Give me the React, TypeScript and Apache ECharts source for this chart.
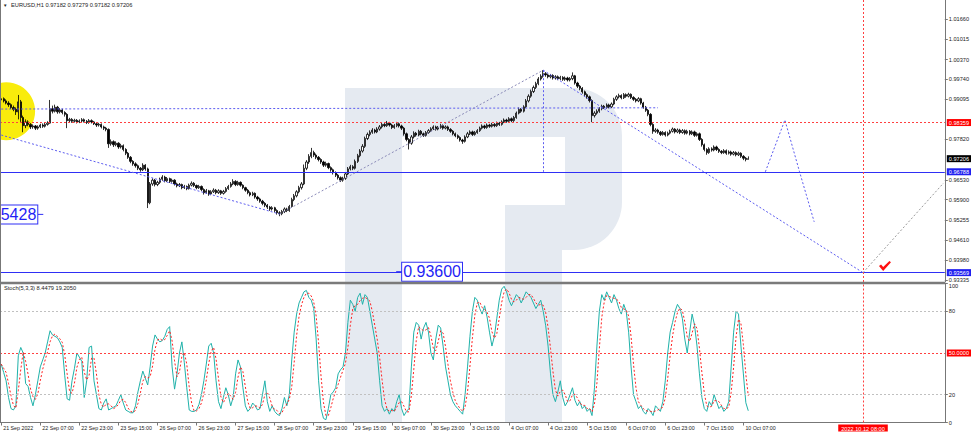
import React, { useEffect, useRef } from 'react';
import * as echarts from 'echarts';

// ---------------- data ----------------
const SYMBOL = 'EURUSD,H1';
const SLOT_COUNT = 387; // hourly slots on the time axis (history + empty future)
const LABEL_STEP = 16; // one time label every 16 bars
const TIME_LABELS = ['21 Sep 2022', '22 Sep 07:00', '22 Sep 23:00', '23 Sep 15:00', '26 Sep 07:00', '26 Sep 23:00', '27 Sep 15:00', '28 Sep 07:00', '28 Sep 23:00', '29 Sep 15:00', '30 Sep 07:00', '30 Sep 23:00', '3 Oct 15:00', '4 Oct 07:00', '4 Oct 23:00', '5 Oct 15:00', '6 Oct 07:00', '6 Oct 23:00', '7 Oct 15:00', '10 Oct 07:00'];

const FIRST_OPEN = 0.9908;
const CLOSE = [
  0.9912, 0.9905, 0.9898, 0.9893, 0.9884, 0.9878, 0.9870, 0.9902, 0.9852, 0.9826,
  0.9838, 0.9830, 0.9822, 0.9825, 0.9818, 0.9822, 0.9828, 0.9824, 0.9830, 0.9834,
  0.9880, 0.9872, 0.9885, 0.9870, 0.9876, 0.9868, 0.9862, 0.9842, 0.9846, 0.9840,
  0.9843, 0.9838, 0.9841, 0.9845, 0.9840, 0.9836, 0.9842, 0.9838, 0.9832, 0.9828,
  0.9830, 0.9822, 0.9818, 0.9814, 0.9768, 0.9775, 0.9765, 0.9770, 0.9758, 0.9762,
  0.9750, 0.9738, 0.9725, 0.9712, 0.9704, 0.9698, 0.9690, 0.9685, 0.9700, 0.9688,
  0.9580, 0.9640, 0.9652, 0.9638, 0.9645, 0.9655, 0.9662, 0.9650, 0.9657, 0.9648,
  0.9652, 0.9640, 0.9634, 0.9638, 0.9628, 0.9632, 0.9625, 0.9636, 0.9642, 0.9635,
  0.9628, 0.9632, 0.9622, 0.9612, 0.9618, 0.9608, 0.9615, 0.9620, 0.9612, 0.9618,
  0.9610, 0.9616, 0.9625, 0.9632, 0.9640, 0.9648, 0.9638, 0.9645, 0.9636, 0.9628,
  0.9620, 0.9612, 0.9605, 0.9610, 0.9598, 0.9592, 0.9585, 0.9578, 0.9572, 0.9566,
  0.9560, 0.9564, 0.9555, 0.9548, 0.9545, 0.9552, 0.9560, 0.9555, 0.9568, 0.9590,
  0.9602, 0.9615, 0.9628, 0.9640, 0.9690, 0.9710, 0.9728, 0.9740, 0.9732, 0.9725,
  0.9718, 0.9710, 0.9700, 0.9705, 0.9692, 0.9685, 0.9676, 0.9668, 0.9660, 0.9652,
  0.9658, 0.9672, 0.9688, 0.9695, 0.9690, 0.9712, 0.9730, 0.9745, 0.9760, 0.9785,
  0.9798, 0.9805, 0.9812, 0.9806, 0.9815, 0.9822, 0.9830, 0.9826, 0.9834, 0.9828,
  0.9820, 0.9826, 0.9832, 0.9825, 0.9818, 0.9800, 0.9782, 0.9770, 0.9790, 0.9802,
  0.9796, 0.9808, 0.9800, 0.9795, 0.9804, 0.9810, 0.9816, 0.9822, 0.9815, 0.9820,
  0.9826, 0.9818, 0.9822, 0.9814, 0.9808, 0.9800, 0.9794, 0.9788, 0.9780, 0.9776,
  0.9790, 0.9800, 0.9806, 0.9798, 0.9804, 0.9810, 0.9818, 0.9825, 0.9820, 0.9828,
  0.9824, 0.9830, 0.9826, 0.9834, 0.9830, 0.9838, 0.9844, 0.9840, 0.9848, 0.9842,
  0.9852, 0.9866, 0.9878, 0.9872, 0.9886, 0.9905, 0.9920, 0.9935, 0.9948, 0.9960,
  0.9975, 0.9984, 0.9992, 0.9988, 0.9982, 0.9986, 0.9978, 0.9982, 0.9976, 0.9980,
  0.9974, 0.9978, 0.9972, 0.9976, 0.9985, 0.9962, 0.9952, 0.9945, 0.9934, 0.9925,
  0.9918, 0.9906, 0.9858, 0.9866, 0.9872, 0.9880, 0.9888, 0.9884, 0.9892, 0.9886,
  0.9895, 0.9910, 0.9918, 0.9922, 0.9915, 0.9925, 0.9920, 0.9926, 0.9916, 0.9910,
  0.9905, 0.9912, 0.9898, 0.9885, 0.9875, 0.9862, 0.9830, 0.9808, 0.9812, 0.9805,
  0.9798, 0.9804, 0.9796, 0.9802, 0.9808, 0.9815, 0.9806, 0.9812, 0.9804, 0.9810,
  0.9802, 0.9808, 0.9800, 0.9806, 0.9795, 0.9800, 0.9782, 0.9765, 0.9750, 0.9740,
  0.9752, 0.9748, 0.9758, 0.9750, 0.9744, 0.9740, 0.9746, 0.9738, 0.9742, 0.9735,
  0.9740, 0.9733, 0.9738, 0.9728, 0.9722, 0.97182, 0.97206,
];
const HIGH = [
  0.9918, 0.9916, 0.9910, 0.9904, 0.9897, 0.9890, 0.9884, 0.9924, 0.9908, 0.9858,
  0.9846, 0.9843, 0.9834, 0.9830, 0.9828, 0.9827, 0.9832, 0.9833, 0.9835, 0.9840,
  0.9908, 0.9890, 0.9893, 0.9889, 0.9882, 0.9880, 0.9872, 0.9866, 0.9851, 0.9850,
  0.9848, 0.9847, 0.9846, 0.9850, 0.9849, 0.9844, 0.9847, 0.9846, 0.9841, 0.9836,
  0.9835, 0.9833, 0.9826, 0.9822, 0.9817, 0.9782, 0.9779, 0.9776, 0.9773, 0.9768,
  0.9766, 0.9754, 0.9742, 0.9729, 0.9716, 0.9709, 0.9702, 0.9694, 0.9706, 0.9703,
  0.9692, 0.9646, 0.9658, 0.9656, 0.9650, 0.9660, 0.9668, 0.9666, 0.9662, 0.9660,
  0.9657, 0.9655, 0.9644, 0.9643, 0.9641, 0.9637, 0.9635, 0.9641, 0.9648, 0.9646,
  0.9638, 0.9637, 0.9635, 0.9626, 0.9624, 0.9621, 0.9620, 0.9626, 0.9624, 0.9623,
  0.9621, 0.9621, 0.9630, 0.9637, 0.9646, 0.9655, 0.9652, 0.9650, 0.9648, 0.9639,
  0.9631, 0.9624, 0.9616, 0.9615, 0.9613, 0.9602, 0.9596, 0.9589, 0.9582, 0.9576,
  0.9570, 0.9569, 0.9567, 0.9559, 0.9553, 0.9557, 0.9565, 0.9564, 0.9573, 0.9596,
  0.9608, 0.9620, 0.9634, 0.9646, 0.9702, 0.9716, 0.9735, 0.9755, 0.9746, 0.9737,
  0.9729, 0.9722, 0.9714, 0.9711, 0.9708, 0.9696, 0.9689, 0.9680, 0.9672, 0.9664,
  0.9663, 0.9677, 0.9694, 0.9701, 0.9700, 0.9718, 0.9736, 0.9751, 0.9767, 0.9791,
  0.9804, 0.9811, 0.9818, 0.9816, 0.9821, 0.9828, 0.9836, 0.9834, 0.9841, 0.9838,
  0.9832, 0.9831, 0.9838, 0.9836, 0.9829, 0.9822, 0.9804, 0.9786, 0.9796, 0.9808,
  0.9806, 0.9813, 0.9812, 0.9804, 0.9809, 0.9815, 0.9821, 0.9827, 0.9826, 0.9825,
  0.9832, 0.9830, 0.9827, 0.9826, 0.9818, 0.9812, 0.9804, 0.9798, 0.9792, 0.9784,
  0.9795, 0.9806, 0.9811, 0.9810, 0.9809, 0.9815, 0.9823, 0.9830, 0.9829, 0.9833,
  0.9832, 0.9835, 0.9834, 0.9839, 0.9838, 0.9843, 0.9849, 0.9848, 0.9853, 0.9852,
  0.9857, 0.9871, 0.9884, 0.9882, 0.9891, 0.9911, 0.9926, 0.9941, 0.9954, 0.9966,
  0.9981, 0.9990, 1.0003, 0.9997, 0.9992, 0.9991, 0.9990, 0.9987, 0.9986, 0.9985,
  0.9984, 0.9983, 0.9982, 0.9981, 0.9996, 0.9988, 0.9966, 0.9956, 0.9949, 0.9938,
  0.9929, 0.9922, 0.9910, 0.9872, 0.9878, 0.9885, 0.9893, 0.9892, 0.9897, 0.9896,
  0.9900, 0.9915, 0.9923, 0.9928, 0.9926, 0.9930, 0.9929, 0.9931, 0.9929, 0.9920,
  0.9914, 0.9917, 0.9915, 0.9902, 0.9889, 0.9879, 0.9866, 0.9834, 0.9818, 0.9816,
  0.9809, 0.9809, 0.9808, 0.9807, 0.9813, 0.9820, 0.9818, 0.9817, 0.9816, 0.9815,
  0.9814, 0.9813, 0.9812, 0.9811, 0.9810, 0.9805, 0.9804, 0.9786, 0.9769, 0.9754,
  0.9757, 0.9757, 0.9763, 0.9762, 0.9754, 0.9748, 0.9751, 0.9750, 0.9747, 0.9746,
  0.9745, 0.9744, 0.9743, 0.9741, 0.9732, 0.9726, 0.97279,
];
const LOW = [
  0.9903, 0.9900, 0.9894, 0.9886, 0.9879, 0.9872, 0.9860, 0.9846, 0.9838, 0.9805,
  0.9818, 0.9824, 0.9815, 0.9816, 0.9812, 0.9813, 0.9818, 0.9819, 0.9820, 0.9826,
  0.9832, 0.9865, 0.9868, 0.9864, 0.9865, 0.9862, 0.9855, 0.9818, 0.9836, 0.9835,
  0.9836, 0.9833, 0.9834, 0.9837, 0.9836, 0.9831, 0.9832, 0.9833, 0.9828, 0.9822,
  0.9823, 0.9817, 0.9812, 0.9808, 0.9755, 0.9762, 0.9758, 0.9760, 0.9752, 0.9753,
  0.9744, 0.9732, 0.9720, 0.9706, 0.9698, 0.9692, 0.9684, 0.9679, 0.9681, 0.9682,
  0.9563, 0.9575, 0.9634, 0.9632, 0.9633, 0.9640, 0.9650, 0.9645, 0.9646, 0.9643,
  0.9644, 0.9635, 0.9629, 0.9630, 0.9623, 0.9624, 0.9620, 0.9622, 0.9632, 0.9630,
  0.9623, 0.9624, 0.9617, 0.9606, 0.9608, 0.9602, 0.9604, 0.9611, 0.9607, 0.9608,
  0.9605, 0.9606, 0.9612, 0.9621, 0.9628, 0.9636, 0.9633, 0.9634, 0.9631, 0.9623,
  0.9615, 0.9607, 0.9600, 0.9601, 0.9593, 0.9586, 0.9580, 0.9572, 0.9566, 0.9560,
  0.9554, 0.9555, 0.9549, 0.9542, 0.9537, 0.9540, 0.9547, 0.9550, 0.9551, 0.9564,
  0.9585, 0.9597, 0.9610, 0.9622, 0.9636, 0.9684, 0.9704, 0.9722, 0.9726, 0.9719,
  0.9712, 0.9704, 0.9694, 0.9695, 0.9687, 0.9679, 0.9670, 0.9662, 0.9654, 0.9646,
  0.9647, 0.9653, 0.9668, 0.9683, 0.9684, 0.9686, 0.9707, 0.9725, 0.9740, 0.9755,
  0.9780, 0.9792, 0.9800, 0.9801, 0.9802, 0.9810, 0.9817, 0.9821, 0.9822, 0.9823,
  0.9815, 0.9816, 0.9821, 0.9820, 0.9812, 0.9794, 0.9776, 0.9750, 0.9765, 0.9785,
  0.9791, 0.9792, 0.9795, 0.9790, 0.9791, 0.9800, 0.9806, 0.9812, 0.9810, 0.9811,
  0.9816, 0.9813, 0.9814, 0.9809, 0.9803, 0.9795, 0.9789, 0.9783, 0.9775, 0.9768,
  0.9772, 0.9786, 0.9796, 0.9793, 0.9794, 0.9800, 0.9806, 0.9814, 0.9815, 0.9816,
  0.9819, 0.9820, 0.9821, 0.9822, 0.9825, 0.9826, 0.9834, 0.9835, 0.9836, 0.9837,
  0.9838, 0.9848, 0.9862, 0.9867, 0.9868, 0.9882, 0.9900, 0.9915, 0.9930, 0.9943,
  0.9955, 0.9970, 0.9979, 0.9982, 0.9977, 0.9977, 0.9973, 0.9973, 0.9971, 0.9971,
  0.9969, 0.9969, 0.9967, 0.9967, 0.9971, 0.9957, 0.9946, 0.9939, 0.9928, 0.9919,
  0.9912, 0.9900, 0.9837, 0.9852, 0.9861, 0.9867, 0.9875, 0.9879, 0.9880, 0.9881,
  0.9882, 0.9891, 0.9905, 0.9913, 0.9910, 0.9911, 0.9915, 0.9916, 0.9911, 0.9905,
  0.9900, 0.9901, 0.9893, 0.9880, 0.9870, 0.9856, 0.9824, 0.9800, 0.9803, 0.9800,
  0.9793, 0.9794, 0.9791, 0.9792, 0.9798, 0.9804, 0.9801, 0.9802, 0.9799, 0.9800,
  0.9797, 0.9798, 0.9795, 0.9796, 0.9790, 0.9791, 0.9777, 0.9759, 0.9744, 0.9733,
  0.9736, 0.9743, 0.9744, 0.9745, 0.9739, 0.9735, 0.9736, 0.9733, 0.9734, 0.9730,
  0.9731, 0.9728, 0.9729, 0.9723, 0.9716, 0.9712, 0.97182,
];

// Stochastic (5,3,3) main line
const STOCH_K = [
  42, 36, 30, 18, 10, 9, 12, 48, 54, 50,
  28, 26, 18, 12, 20, 30, 40, 45, 50, 58,
  66, 63, 62, 61, 58, 54, 34, 17, 16, 30,
  39, 50, 47, 44, 18, 30, 54, 55, 30, 20,
  10, 9, 14, 17, 9, 10, 11, 12, 16, 20,
  14, 9, 8, 7, 7, 12, 22, 30, 37, 32,
  27, 40, 55, 63, 60, 58, 59, 62, 67, 69,
  40, 24, 35, 50, 58, 43, 25, 9, 8, 8,
  9, 13, 20, 30, 42, 55, 57, 50, 30, 15,
  10, 18, 25, 20, 12, 18, 35, 45, 40, 25,
  12, 8, 10, 14, 12, 9, 10, 20, 30, 15,
  8, 12, 8, 6, 5, 10, 18, 12, 20, 45,
  65, 78, 86, 90, 94, 95, 90, 88, 82, 60,
  30, 10, 3, 2, 10, 20, 22, 25, 35, 38,
  40, 50, 72, 88, 85, 80, 90, 93, 85, 92,
  90, 80, 70, 60, 50, 30, 12, 8, 10, 6,
  10, 8, 15, 20, 10, 5, 8, 10, 40, 65,
  72, 70, 60, 68, 72, 65, 50, 45, 60, 70,
  68, 55, 40, 30, 20, 15, 12, 10, 8, 6,
  20, 40, 62, 80, 90, 88, 82, 78, 84, 76,
  65, 55, 62, 75, 88, 96, 98, 94, 88, 84,
  88, 92, 90, 86, 90, 94, 92, 90, 86, 82,
  85, 88, 80, 70, 55, 35, 20, 15, 22, 30,
  18, 12, 15, 20, 25, 16, 12, 15, 10, 12,
  8, 10, 5, 25, 55, 80, 92, 88, 94, 90,
  86, 92, 88, 82, 78, 85, 80, 65, 40, 20,
  15, 10, 12, 8, 6, 10, 8, 5, 12, 10,
  8, 15, 30, 50, 65, 72, 80, 85, 82, 75,
  60, 50, 65, 78, 70, 55, 35, 18, 10, 8,
  15, 12, 20, 15, 10, 12, 8, 10, 15, 40,
  65, 80, 78, 55, 34.95, 14.2171, 8.4479,
];
const STOCH_SLOWING = 3;

// axes
const PRICE_AXIS_MIN = 0.9327;
const PRICE_AXIS_MAX = 1.0227;
const PRICE_TICKS = [1.0166, 1.01015, 1.0037, 0.9974, 0.99095, 0.9782, 0.9653, 0.959, 0.95255, 0.9461, 0.9398, 0.93335];
const STOCH_TICKS = [0, 20, 80, 100];
const STOCH_AXIS_LABELS = [20, 80, 100];
const STOCH_BOTTOM = 0;

// drawn objects
const RESISTANCE = 0.98359;
const SUPPORT_1 = 0.96788;
const SUPPORT_2 = 0.93569;
const BID = 0.97206;
const STOCH_MID = 50;
const TARGET_BAR = 353;
const TARGET_TIME = '2022.10.12 08:00';
const CHANNEL_TOP = [[0, 0.9879], [269, 0.9883]];
const CHANNEL_LOW = [[0, 0.9796], [114, 0.9544]];
const WAVE_UP = [[114, 0.9544], [222, 1.0003]];
const PEAK_DROP = [[222, 1.0003], [222, 0.96788]];
const WAVE_DOWN = [[222, 1.0003], [353, 0.93569]];
const WAVE_NEXT = [[353, 0.93569], [386, 0.9643]];
const FORECAST_PATH = [[313, 0.96788], [321, 0.9844], [327, 0.96788], [333, 0.9519]];
const HIGHLIGHT = [2, 0.9872];
const PRICE_LABEL_A = { bar: 16, price: 0.95428 };
const PRICE_LABEL_B = { bar: 163, price: 0.936 };
const CHECK_MARK = [362, 0.93781];

// ---------------- helpers ----------------
const FONT = '"Liberation Sans", Arial, sans-serif';
const CATS = Array.from({ length: SLOT_COUNT }, (_, i) => String(i));
const CANDLES = CLOSE.map((c, i) => [i === 0 ? FIRST_OPEN : CLOSE[i - 1], c, LOW[i], HIGH[i]]);
const STOCH_D = STOCH_K.map((_, i) => {
  const from = Math.max(0, i - STOCH_SLOWING + 1);
  const win = STOCH_K.slice(from, i + 1);
  return win.reduce((a, b) => a + b, 0) / win.length;
});
const last = CANDLES.length - 1;
const HEADER = `${SYMBOL} ${CANDLES[last][0].toFixed(5)} ${CANDLES[last][3].toFixed(5)} ${CANDLES[last][2].toFixed(5)} ${CANDLES[last][1].toFixed(5)}`;
const STOCH_HEADER = `Stoch(5,3,3) ${STOCH_K[STOCH_K.length - 1].toFixed(4)} ${STOCH_D[STOCH_D.length - 1].toFixed(4)}`;

const BLUE = '#2f2ff5';
const BLUE_DOT = '#5c5cf0';
const RED_DOT = '#ff4040';
const TAG_BLUE = '#2020f0';
const CLEAR = 'rgba(0,0,0,0)';

const tag = (bg: string, text: string) => ({
  show: true,
  position: 'end',
  distance: 2,
  formatter: text,
  color: '#fff',
  fontSize: 5.6,
  fontFamily: FONT,
  backgroundColor: bg,
  padding: [1, 2, 0, 2],
});
const seg = (pts: number[][], color: string, type: any = [2, 2]) => [
  { coord: pts[0], lineStyle: { color, type, width: 1 } },
  { coord: pts[1], lineStyle: { color, type, width: 1 } },
];
const showTick = (i: number) => i % LABEL_STEP === 0 && i / LABEL_STEP < TIME_LABELS.length;

export default function App() {
  const ref = useRef<HTMLDivElement>(null);
  useEffect(() => {
    const chart = echarts.init(ref.current!, null, { renderer: 'svg', width: 973, height: 436 });
    const option: any = {
      animation: false,
      backgroundColor: '#ffffff',
      textStyle: { fontFamily: FONT },
      grid: [
        { left: -1, top: 0, width: 945.8, height: 282 },
        { left: -1, top: 283.5, width: 945.8, height: 139 },
      ],
      xAxis: [
        { type: 'category', gridIndex: 0, data: CATS, boundaryGap: true, axisLine: { show: false }, axisTick: { show: false }, axisLabel: { show: false }, splitLine: { show: false } },
        {
          type: 'category', gridIndex: 1, data: CATS, boundaryGap: true,
          axisLine: { show: true, lineStyle: { color: '#777', width: 1 } },
          axisTick: { show: true, alignWithLabel: true, interval: (i: number) => showTick(i), length: 3, lineStyle: { color: '#777' } },
          axisLabel: {
            interval: (i: number) => showTick(i),
            formatter: (_v: string, i: number) => TIME_LABELS[i / LABEL_STEP] ?? '',
            align: 'left', padding: [0, 0, 0, 2], margin: 3, fontSize: 5.3, color: '#222', fontFamily: FONT,
          },
          splitLine: { show: false },
        },
      ],
      yAxis: [
        {
          type: 'value', gridIndex: 0, position: 'right', min: PRICE_AXIS_MIN, max: PRICE_AXIS_MAX,
          splitLine: { show: false },
          axisLine: { show: true, lineStyle: { color: '#777' } },
          axisTick: { show: true, customValues: PRICE_TICKS, length: 3, lineStyle: { color: '#777' } },
          axisLabel: { customValues: PRICE_TICKS, formatter: (v: number) => v.toFixed(5), fontSize: 5.6, margin: 4, color: '#222', fontFamily: FONT },
        },
        {
          type: 'value', gridIndex: 1, position: 'right', min: 0, max: 100,
          splitLine: { show: false },
          axisLine: { show: true, lineStyle: { color: '#777' } },
          axisTick: { show: true, customValues: STOCH_TICKS, length: 3, lineStyle: { color: '#777' } },
          axisLabel: {
            customValues: STOCH_AXIS_LABELS, margin: 4, color: '#222', fontFamily: FONT, fontSize: 5.6,
            formatter: (v: number) => (v === 100 ? `{t|${v}}` : `${v}`),
            rich: { t: { fontSize: 5.6, fontFamily: FONT, color: '#222', padding: [5, 0, 0, 0] } },
          },
        },
      ],
      graphic: [
        // watermark
        { type: 'rect', silent: true, z: 0, shape: { x: 345, y: 88, width: 57, height: 335 }, style: { fill: '#e5eaf1' } },
        { type: 'rect', silent: true, z: 0, shape: { x: 345, y: 88, width: 277, height: 162, r: [0, 48, 48, 0] }, style: { fill: '#e5eaf1' } },
        { type: 'rect', silent: true, z: 0, shape: { x: 505, y: 200, width: 57, height: 223 }, style: { fill: '#e5eaf1' } },
        { type: 'rect', silent: true, z: 1, shape: { x: 402, y: 137, width: 163, height: 68 }, style: { fill: '#ffffff' } },
        { type: 'rect', silent: true, z: 1, shape: { x: 402, y: 205, width: 103, height: 76 }, style: { fill: '#ffffff' } },
        // frame
        { type: 'line', silent: true, z: 50, shape: { x1: 0.5, y1: 0, x2: 0.5, y2: 423 }, style: { stroke: '#777', lineWidth: 1 } },
        { type: 'rect', silent: true, z: 50, shape: { x: 0, y: 281.8, width: 945, height: 2.4 }, style: { fill: '#7a7a7a' } },
        // headers
        { type: 'text', silent: true, z: 60, x: 3, y: 5, style: { text: '▼', fontSize: 4.5, fill: '#222', verticalAlign: 'middle', fontFamily: FONT } },
        { type: 'text', silent: true, z: 60, x: 11, y: 5, style: { text: HEADER, fontSize: 5.7, fill: '#222', verticalAlign: 'middle', fontFamily: FONT } },
        { type: 'text', silent: true, z: 60, x: 4, y: 287.5, style: { text: STOCH_HEADER, fontSize: 5.7, fill: '#222', verticalAlign: 'middle', fontFamily: FONT } },
      ],
      series: [
        {
          type: 'scatter', xAxisIndex: 0, yAxisIndex: 0, z: 1, silent: true, clip: false,
          data: [HIGHLIGHT], symbolSize: 58, itemStyle: { color: '#f9ec0c', opacity: 1 },
        },
        {
          type: 'candlestick', xAxisIndex: 0, yAxisIndex: 0, z: 3, silent: true,
          data: CANDLES, barWidth: 1.8,
          itemStyle: { color: '#ffffff', color0: '#000000', borderColor: '#000000', borderColor0: '#000000', borderWidth: 0.8 },
          markLine: {
            silent: true, symbol: ['none', 'none'], animation: false, precision: 6, label: { show: false },
            data: [
              { yAxis: RESISTANCE, lineStyle: { color: RED_DOT, type: [2, 2], width: 1 }, label: tag('#ff0000', RESISTANCE.toFixed(5)) },
              { yAxis: SUPPORT_1, lineStyle: { color: BLUE, type: 'solid', width: 1 }, label: tag(TAG_BLUE, SUPPORT_1.toFixed(5)) },
              { yAxis: SUPPORT_2, lineStyle: { color: BLUE, type: 'solid', width: 1 }, label: tag(TAG_BLUE, SUPPORT_2.toFixed(5)) },
              { yAxis: BID, lineStyle: { color: CLEAR, width: 0 }, label: tag('#000000', BID.toFixed(5)) },
              { xAxis: TARGET_BAR, lineStyle: { color: RED_DOT, type: [2, 2], width: 1 } },
              seg(CHANNEL_TOP, BLUE_DOT),
              seg(CHANNEL_LOW, BLUE_DOT),
              seg(WAVE_UP, '#8a8ab8'),
              seg(PEAK_DROP, BLUE_DOT),
              seg(WAVE_DOWN, BLUE_DOT),
              seg(WAVE_NEXT, '#9a9a9a'),
            ],
          },
        },
        {
          type: 'line', xAxisIndex: 0, yAxisIndex: 0, z: 4, silent: true,
          data: FORECAST_PATH, symbol: 'emptyCircle', symbolSize: 3,
          lineStyle: { color: BLUE_DOT, type: [2, 2], width: 1 }, itemStyle: { color: BLUE_DOT },
          markPoint: {
            silent: true, animation: false, precision: 6,
            data: [
              {
                coord: [PRICE_LABEL_A.bar, PRICE_LABEL_A.price], symbol: 'rect', symbolSize: [6, 1], itemStyle: { color: BLUE },
                label: { show: true, position: 'left', distance: 0, formatter: PRICE_LABEL_A.price.toFixed(5), color: '#1f1ff5', fontSize: 16, fontFamily: FONT, borderColor: BLUE, borderWidth: 1, padding: [1, 1, 0, 1], backgroundColor: '#fff', lineHeight: 17 },
              },
              {
                coord: [PRICE_LABEL_B.bar, PRICE_LABEL_B.price], symbol: 'rect', symbolSize: [6, 1], itemStyle: { color: BLUE },
                label: { show: true, position: 'right', distance: 0, formatter: PRICE_LABEL_B.price.toFixed(5), color: '#1f1ff5', fontSize: 16, fontFamily: FONT, borderColor: BLUE, borderWidth: 1, padding: [1, 1, 0, 1], backgroundColor: '#fff', lineHeight: 17 },
              },
              {
                coord: CHECK_MARK, symbol: 'path://M0,5 L2,3.5 L4,6 L10,0 L11.5,1.3 L4,10 Z', symbolSize: [12, 10],
                itemStyle: { color: '#ff1010' }, label: { show: false },
              },
            ],
          },
        },
        {
          type: 'line', xAxisIndex: 1, yAxisIndex: 1, z: 3, silent: true,
          data: STOCH_K, showSymbol: false, symbol: 'none',
          lineStyle: { color: '#20b2aa', width: 1 },
          markLine: {
            silent: true, symbol: ['none', 'none'], animation: false, precision: 4, label: { show: false },
            data: [
              { yAxis: 80, lineStyle: { color: '#c0c0c0', type: [2, 2], width: 1 } },
              { yAxis: 20, lineStyle: { color: '#c0c0c0', type: [2, 2], width: 1 } },
              { yAxis: STOCH_MID, lineStyle: { color: RED_DOT, type: [2, 2], width: 1 }, label: tag('#ff0000', STOCH_MID.toFixed(4)) },
              {
                yAxis: STOCH_BOTTOM, lineStyle: { color: CLEAR, width: 0 },
                label: { show: true, position: 'end', distance: 4, formatter: String(STOCH_BOTTOM), color: '#222', fontSize: 5.6, fontFamily: FONT, padding: [0, 0, 6, 0] },
              },
              {
                xAxis: TARGET_BAR, lineStyle: { color: RED_DOT, type: [2, 2], width: 1 },
                label: { show: true, position: 'start', distance: 2, formatter: TARGET_TIME, color: '#fff', fontSize: 5.6, fontFamily: FONT, backgroundColor: '#ff0000', padding: [1, 3, 0, 3] },
              },
            ],
          },
        },
        {
          type: 'line', xAxisIndex: 1, yAxisIndex: 1, z: 4, silent: true,
          data: STOCH_D, showSymbol: false, symbol: 'none',
          lineStyle: { color: '#ff2020', width: 1, type: [2, 2] },
        },
      ],
    };
    chart.setOption(option);
    return () => chart.dispose();
  }, []);
  return <div ref={ref} style={{ position: 'fixed', left: 0, top: 0, width: 973, height: 436, background: '#fff' }} />;
}
